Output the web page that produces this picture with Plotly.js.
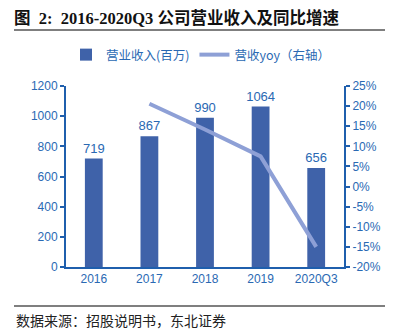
<!DOCTYPE html>
<html><head><meta charset="utf-8">
<script src="https://cdn.plot.ly/plotly-3.0.1.min.js"></script>
<style>body{margin:0;background:#fff}#c{width:397px;height:335px}</style>
</head><body><div id="c"></div>
<script>
const categories = ['2016','2017','2018','2019','2020Q3'];
const revenue = [719, 867, 990, 1064, 656];
const yoyCats = ['2017','2018','2019','2020Q3'];
const yoy = [20.6, 14.2, 7.5, -15.0];
const yoyTicks = [-20, -15, -10, -5, 0, 5, 10, 15, 20, 25];
const yoyTickText = ['-20%','-15%','-10%','-5%','0%','5%','10%','15%','20%','25%'];
const revenueName = '营业收入(百万)';
const yoyName = '营收yoy（右轴）';

const axisColor = '#1f5fad';
const textColor = '#2a69b3';
const tickFont = {family: 'Liberation Sans, Arial, sans-serif', size: 12, color: textColor};

const traces = [
  {type: 'bar', x: categories, y: revenue, name: revenueName,
   marker: {color: '#3f62a9'}, text: revenue.map(String), textposition: 'outside',
   constraintext: 'none',
   textfont: {family: 'Liberation Sans, Arial, sans-serif', size: 13, color: textColor},
   cliponaxis: false, hoverinfo: 'none'},
  {type: 'scatter', mode: 'lines', x: yoyCats, y: yoy, name: yoyName, yaxis: 'y2',
   line: {color: '#8ea0d6', width: 4}, hoverinfo: 'none'}
];

const cjk = 'Noto Sans CJK SC, sans-serif';
const layout = {
  width: 397, height: 335,
  margin: {l: 66, r: 53, t: 86, b: 68},
  paper_bgcolor: '#fff', plot_bgcolor: '#fff',
  showlegend: true,
  bargap: 0.68,
  uniformtext: {mode: false},
  title: {text: '<b>图  2:  2016-2020Q3 公司营业收入及同比增速</b>',
          font: {family: 'Liberation Serif, Noto Sans CJK SC, serif', size: 16.5, color: '#111'},
          x: 14/397, xanchor: 'left', xref: 'container', y: 1 - 18/335, yref: 'container', yanchor: 'middle'},
  legend: {orientation: 'h', x: 0.0, xanchor: 'left', y: (267-55)/181, yanchor: 'middle',
           font: {family: cjk, size: 12.5, color: textColor}, itemwidth: 30, tracegroupgap: 0,
           bgcolor: 'rgba(0,0,0,0)'},
  xaxis: {type: 'category', range: [-0.5, 4.5], showline: true, linecolor: axisColor, linewidth: 2,
          ticks: '', tickfont: tickFont, showgrid: false, zeroline: false, fixedrange: true},
  yaxis: {range: [0, 1200], dtick: 200, showline: true, linecolor: axisColor, linewidth: 2,
          ticks: 'outside', ticklen: 4, tickwidth: 2, tickcolor: axisColor, tickfont: tickFont,
          showgrid: false, zeroline: false},
  yaxis2: {overlaying: 'y', side: 'right', range: [-20, 25], tickmode: 'array',
           tickvals: yoyTicks, ticktext: yoyTickText,
           showline: true, linecolor: axisColor, linewidth: 2, ticks: 'outside', ticklen: 4,
           tickwidth: 2, tickcolor: axisColor, tickfont: tickFont, showgrid: false, zeroline: false},
  shapes: [
    {type: 'line', xref: 'paper', yref: 'paper', x0: (14-66)/278, x1: (385-66)/278,
     y0: (267-30)/181, y1: (267-30)/181, line: {color: '#555', width: 1.5}},
    {type: 'line', xref: 'paper', yref: 'paper', x0: (14-66)/278, x1: (385-66)/278,
     y0: (267-306)/181, y1: (267-306)/181, line: {color: '#555', width: 1.5}}
  ],
  annotations: [
    {text: '数据来源：招股说明书，东北证券', xref: 'paper', yref: 'paper',
     x: (14-66)/278, xanchor: 'left', y: (267-320)/181, yanchor: 'middle', showarrow: false,
     font: {family: cjk, size: 14, color: '#222'}}
  ]
};
Plotly.newPlot('c', traces, layout, {displayModeBar: false, staticPlot: true});
</script></body></html>
